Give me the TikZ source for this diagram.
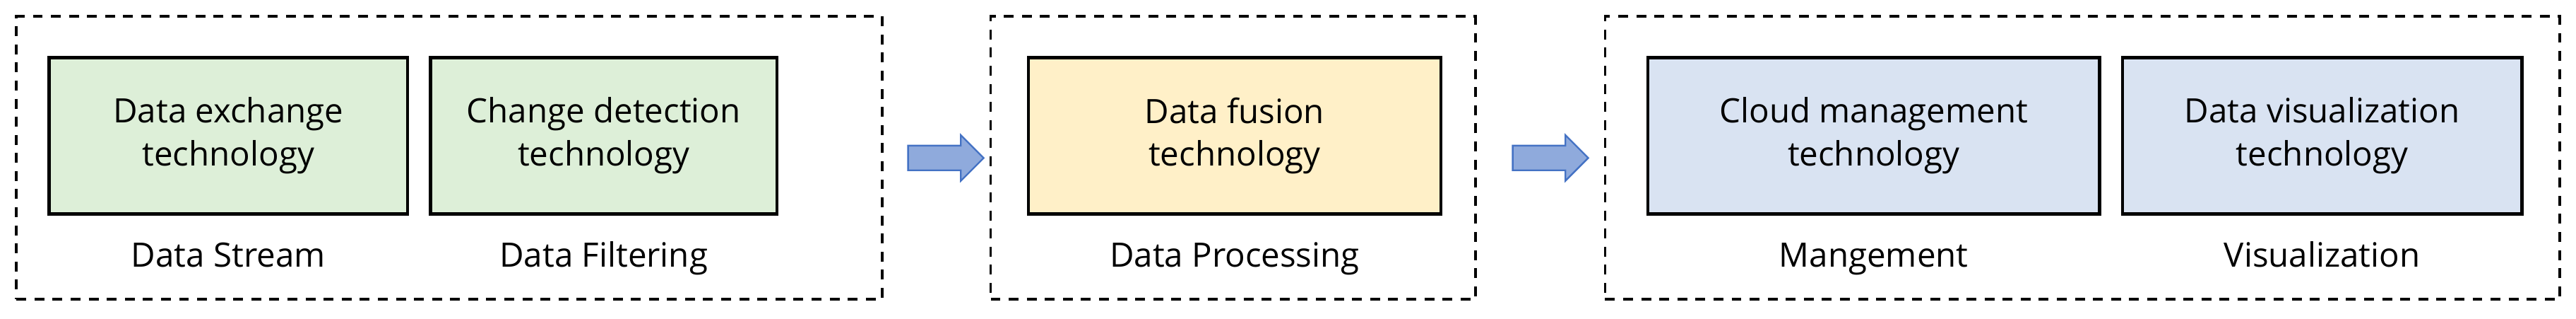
\documentclass[tikz,border=0pt]{standalone}
\usepackage{fontspec}
\setmainfont{Open Sans}
\usetikzlibrary{shapes.arrows}
\definecolor{techgreen}{HTML}{DDEFD8}
\definecolor{techyellow}{HTML}{FFF0C8}
\definecolor{techblue}{HTML}{D9E3F2}
\definecolor{arrowfill}{HTML}{8FAADC}
\definecolor{arrowline}{HTML}{4472C4}
\begin{document}
\begin{tikzpicture}[x=0.5pt,y=-0.5pt,
    group/.style={draw,dash pattern=on 3pt off 2.5pt,line width=0.8pt,inner sep=0pt},
    tech/.style={draw,line width=1pt,inner sep=0pt,align=center,font=\fontsize{10.2}{13}\selectfont},
    caption/.style={font=\fontsize{10.2}{12}\selectfont,text height=7.5pt,text depth=2pt},
    flow arrow/.style={single arrow,draw=arrowline,fill=arrowfill,line width=0.5pt,inner xsep=0pt,inner ysep=3.5pt,single arrow head extend=3.2pt,minimum height=23pt}]
    \useasboundingbox (0,0) rectangle (1568,193.5);

    % dashed groups
    \node (g1) [group,minimum width=263.5pt,minimum height=86pt] at (273.5,96){};
    \node (g2) [group,minimum width=147.5pt,minimum height=86pt] at (750.5,96){};
    \node (g3) [group,minimum width=290.5pt,minimum height=86pt] at (1267.5,96){};

    % technology boxes
    \node (exch) [tech,fill=techgreen,minimum width=109pt,minimum height=47.5pt] at (139,82.5){Data exchange\\technology};
    \node (chg) [tech,fill=techgreen,minimum width=105.5pt,minimum height=47.5pt] at (367.5,82.5){Change detection\\technology};
    \node (fus) [tech,fill=techyellow,minimum width=125.5pt,minimum height=47.5pt] at (751.5,82.5){Data fusion\\technology};
    \node (cloud) [tech,fill=techblue,minimum width=137.5pt,minimum height=47.5pt] at (1140.5,82.5){Cloud management\\technology};
    \node (vis) [tech,fill=techblue,minimum width=121.5pt,minimum height=47.5pt] at (1413.5,82.5){Data visualization\\technology};

    % captions
    \node (cstream) [caption] at (139,157){Data Stream};
    \node (cfilter) [caption] at (367.5,157){Data Filtering};
    \node (cproc) [caption] at (751.5,157){Data Processing};
    \node (cmgmt) [caption] at (1140.5,157){Mangement};
    \node (cvis) [caption] at (1413.5,157){Visualization};

    % block arrows
    \node (a1) [flow arrow] at (572,96){};
    \node (a2) [flow arrow] at (940,96){};
\end{tikzpicture}
\end{document}
